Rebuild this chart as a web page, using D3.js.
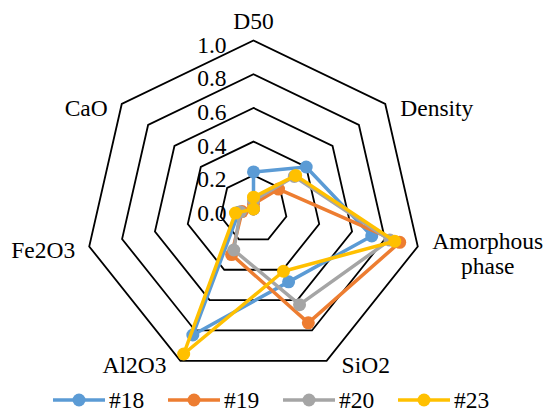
<!DOCTYPE html>
<html><head><meta charset="utf-8"><script src="https://cdn.jsdelivr.net/npm/d3@7"></script></head>
<body style="margin:0">
<svg id="s" width="547" height="416"></svg>
<script>
// Axes of the radar, clockwise from the top
const categories = ["D50", "Density", "Amorphous phase", "SiO2", "Al2O3", "Fe2O3", "CaO"];
const seriesNames = ["#18", "#19", "#20", "#23"];
const s18 = [0.22, 0.40, 0.72, 0.48, 0.83, 0.09, 0.00];
const s19 = [0.03, 0.19, 0.89, 0.75, 0.30, 0.07, 0.00];
const s20 = [0.05, 0.31, 0.83, 0.63, 0.27, 0.08, 0.00];
const s23 = [0.07, 0.32, 0.86, 0.41, 0.955, 0.11, 0.00];
const seriesValues = [s18, s19, s20, s23];
const colors = ["#5B9BD5", "#ED7D31", "#A5A5A5", "#FFC000"];
const tickValues = [0.0, 0.2, 0.4, 0.6, 0.8, 1.0];
const tickLabels = ["0.0", "0.2", "0.4", "0.6", "0.8", "1.0"];

const svg = d3.select("#s");
const cx = 253.5, cy = 209, R = 168.5;
const FONT = 23.5;
const FAMILY = "Liberation Serif";

const r = d3.scaleLinear().domain([0, 1]).range([0, R]);
const angle = d3.scalePoint().domain(d3.range(categories.length + 1)).range([0, 2 * Math.PI]);
const ang = i => angle(i);

const g = svg.append("g").attr("transform", `translate(${cx},${cy})`);

// Grid rings (heptagons)
const ring = d3.lineRadial()
  .angle((d, i) => ang(i))
  .radius(d => r(d))
  .curve(d3.curveLinearClosed);

g.append("g").selectAll("path")
  .data(tickValues.filter(v => v > 0))
  .join("path")
  .attr("d", v => ring(categories.map(() => v)))
  .attr("fill", "none")
  .attr("stroke", "#000")
  .attr("stroke-width", 1.8)
  .attr("stroke-linejoin", "miter");

// Ring value labels along the top axis
g.append("g").selectAll("text")
  .data(tickValues)
  .join("text")
  .attr("x", -27)
  .attr("y", v => -r(v) + 12)
  .attr("font-size", FONT)
  .attr("font-family", FAMILY)
  .attr("text-anchor", "end")
  .text((v, i) => tickLabels[i]);

// Category labels outside each vertex
const labelG = g.append("g");
categories.forEach((c, i) => {
  const a = ang(i);
  const vx = Math.sin(a) * r(1), vy = -Math.cos(a) * r(1);
  const lines = c === "Amorphous phase" ? ["Amorphous", "phase"] : [c];
  const right = Math.sin(a) > 0;
  const top = Math.abs(Math.sin(a)) < 0.01;
  const lh = 25;
  const yc = vy + 4 + (lines.length > 1 ? 3 : 0);
  lines.forEach((line, k) => {
    const t = labelG.append("text")
      .attr("font-size", FONT)
      .attr("font-family", FAMILY)
      .text(line);
    if (top) {
      t.attr("x", vx).attr("y", vy - 12).attr("text-anchor", "middle");
      return;
    }
    t.attr("y", yc + (k - (lines.length - 1) / 2) * lh + 8);
    if (lines.length > 1) {
      t.attr("x", vx + 15 + 55).attr("text-anchor", "middle");
    } else {
      t.attr("x", right ? vx + 15 : vx - 14).attr("text-anchor", right ? "start" : "end");
    }
  });
});

// Series polygons and markers
const poly = d3.lineRadial()
  .angle((d, i) => ang(i))
  .radius(d => r(d))
  .curve(d3.curveLinearClosed);

seriesValues.forEach((vals, si) => {
  const sg = g.append("g");
  sg.append("path")
    .attr("d", poly(vals))
    .attr("fill", "none")
    .attr("stroke", colors[si])
    .attr("stroke-width", 3.5)
    .attr("stroke-linejoin", "round");
  sg.selectAll("circle").data(vals).join("circle")
    .attr("cx", (d, i) => Math.sin(ang(i)) * r(d))
    .attr("cy", (d, i) => -Math.cos(ang(i)) * r(d))
    .attr("r", 6.5)
    .attr("fill", colors[si]);
});

// Legend
const legend = svg.append("g").attr("transform", "translate(53,400)");
const item = legend.selectAll("g").data(seriesNames).join("g")
  .attr("transform", (d, i) => `translate(${i * 115},0)`);
item.append("line")
  .attr("x1", 0).attr("x2", 52).attr("y1", 0).attr("y2", 0)
  .attr("stroke", (d, i) => colors[i]).attr("stroke-width", 3.5);
item.append("circle")
  .attr("cx", 26).attr("cy", 0).attr("r", 6.5)
  .attr("fill", (d, i) => colors[i]);
item.append("text")
  .attr("x", 56).attr("y", 8)
  .attr("font-size", FONT)
  .attr("font-family", FAMILY)
  .text(d => d);
</script></body></html>
